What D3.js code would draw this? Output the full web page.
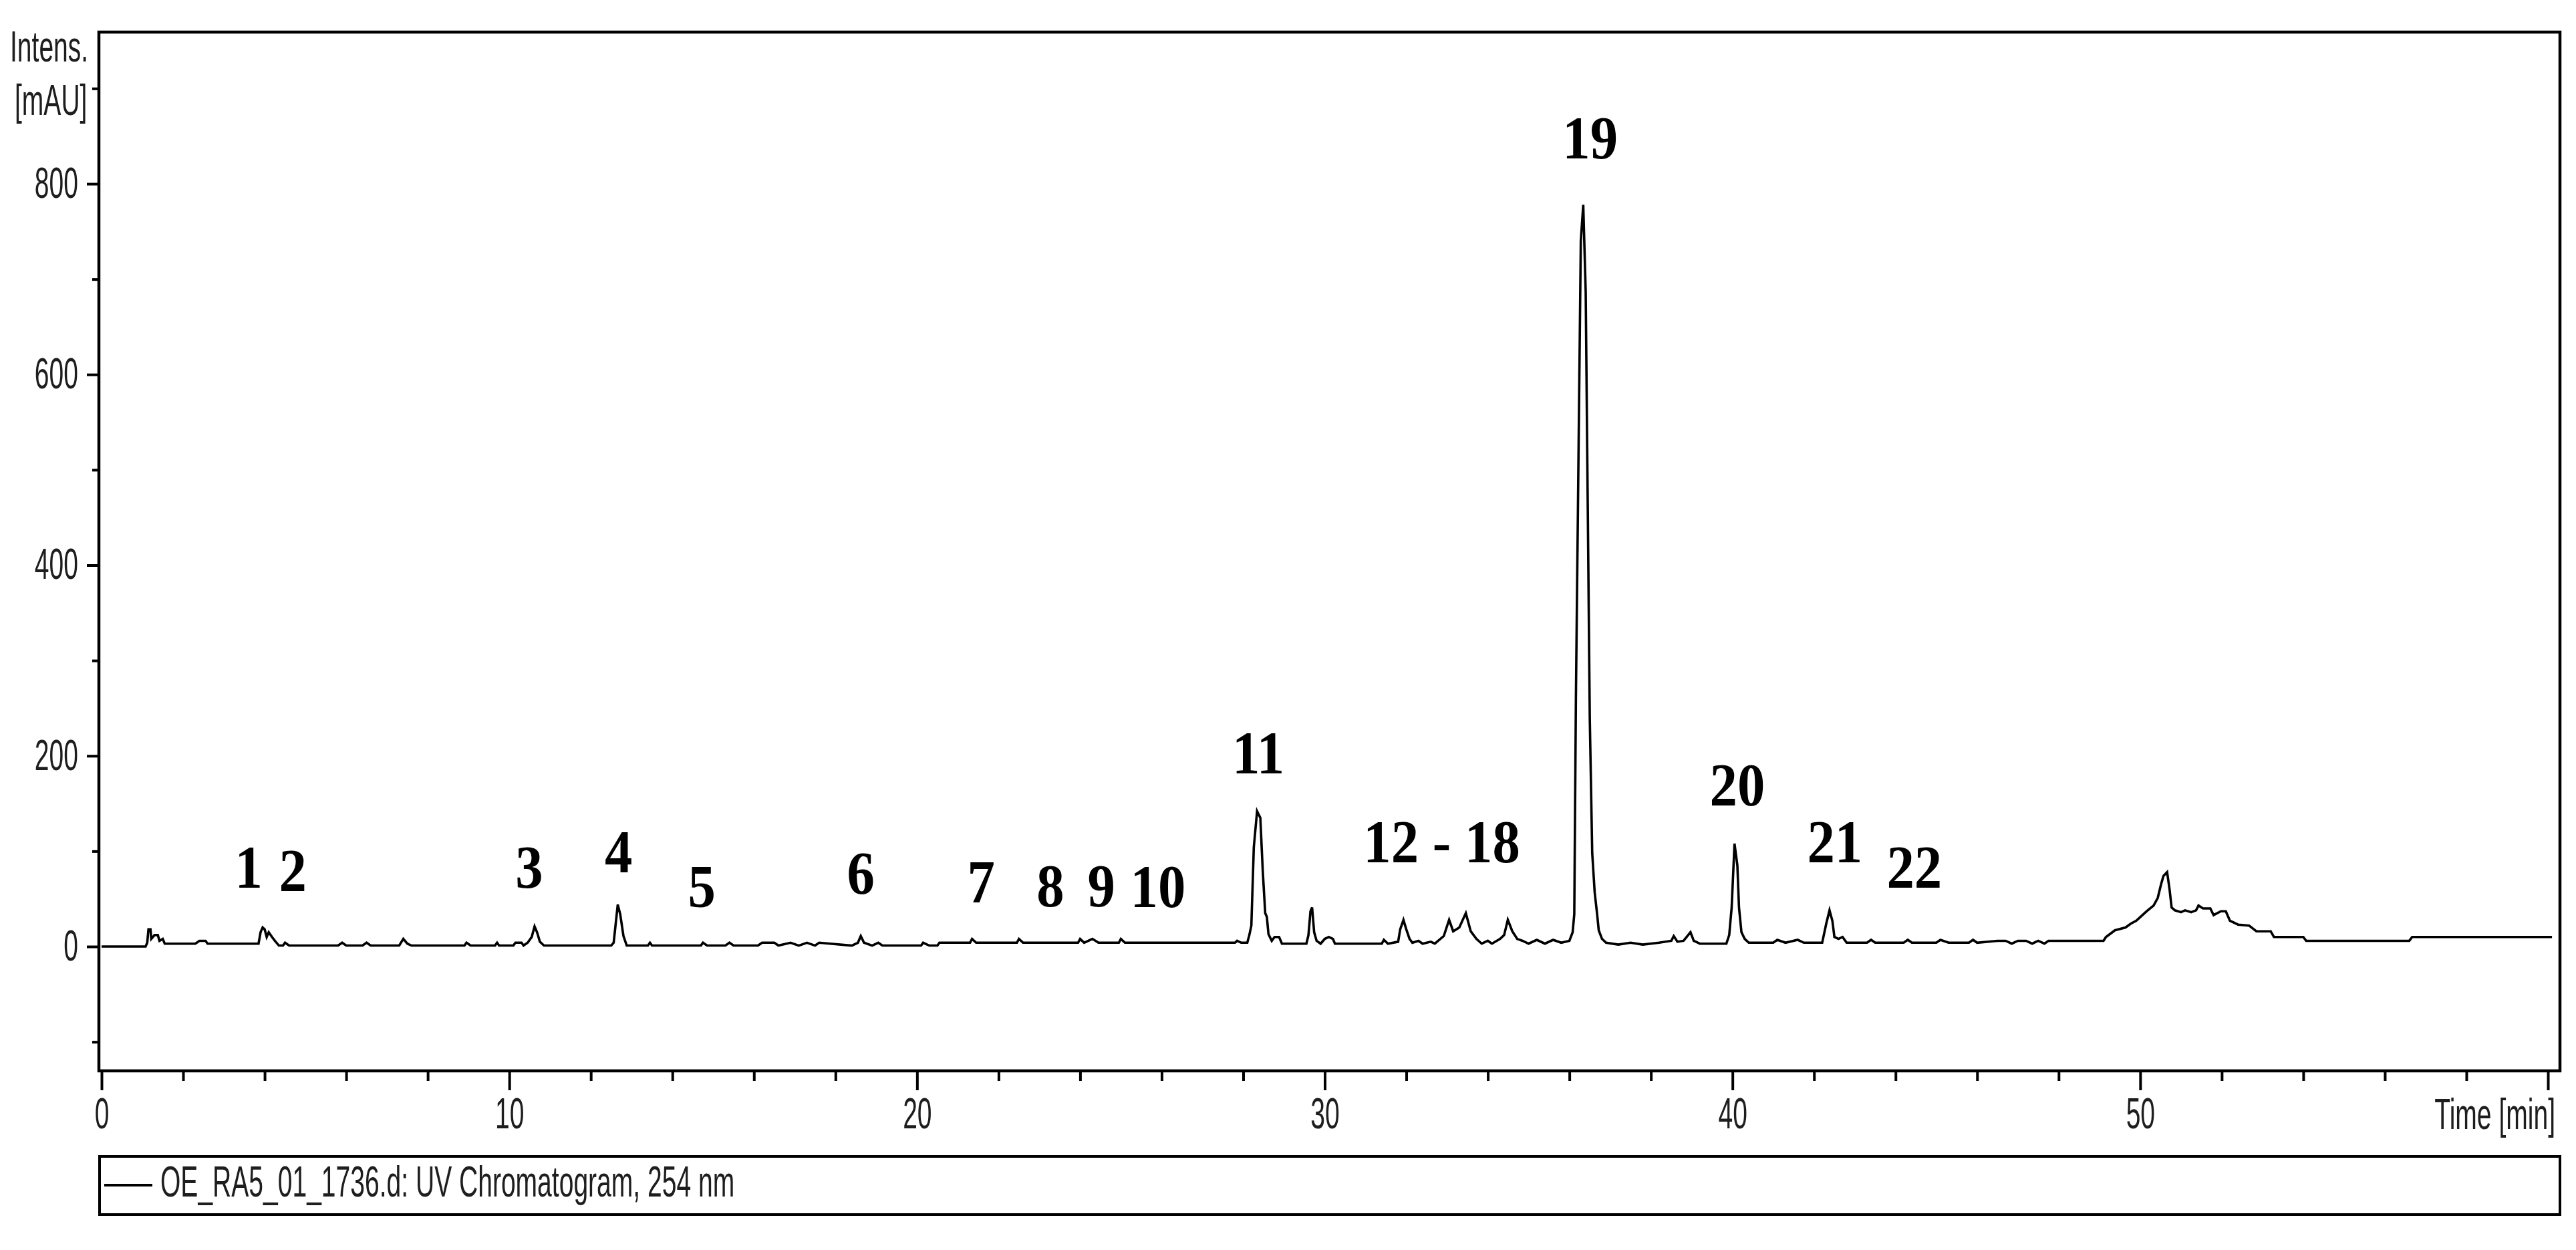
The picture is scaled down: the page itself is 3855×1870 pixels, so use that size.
<!DOCTYPE html>
<html>
<head>
<meta charset="utf-8">
<script src="https://cdn.jsdelivr.net/npm/d3@7"></script>
<style>
html,body{margin:0;padding:0;background:#fff;}
svg{display:block;}
</style>
</head>
<body>
<svg id="chart" width="3855" height="1870"></svg>
<script>
// ---------------- DATA ----------------
const time = [
 0.0,1.08,1.12,1.15,1.2,1.22,1.3,1.38,1.42,1.5,1.55,2.3,2.4,2.55,2.6,3.85,3.9,3.95,4.0,4.05,4.1,4.18,4.25,4.35,4.45,4.5,4.6,
 5.8,5.9,6.0,6.4,6.5,6.6,7.3,7.4,7.5,7.6,8.9,8.95,9.05,9.65,9.7,9.75,10.1,10.15,10.3,10.35,10.45,10.55,10.62,10.68,10.75,10.85,
 12.5,12.56,12.6,12.66,12.72,12.8,12.88,13.4,13.45,13.5,14.7,14.75,14.85,15.3,15.4,15.5,16.1,16.2,16.5,16.6,16.9,17.1,17.3,17.5,17.6,
 18.4,18.55,18.62,18.7,18.9,19.05,19.15,20.1,20.15,20.3,20.5,20.55,21.3,21.35,21.45,22.45,22.5,22.6,23.95,24.0,24.1,24.3,24.45,24.95,25.0,25.1,
 27.8,27.85,27.95,28.1,28.15,28.2,28.26,28.34,28.42,28.48,28.54,28.58,28.62,28.7,28.77,28.88,28.95,29.55,29.6,29.65,29.69,29.74,29.8,29.9,
 30.0,30.1,30.2,30.25,31.4,31.45,31.55,31.8,31.85,31.93,32.0,32.08,32.15,32.3,32.4,32.6,32.7,32.92,33.05,33.15,33.3,33.46,33.58,33.72,33.85,
 34.0,34.1,34.3,34.4,34.49,34.6,34.72,34.85,35.0,35.2,35.4,35.6,35.8,36.0,36.08,36.12,36.16,36.28,36.34,36.4,36.5,36.56,36.62,36.68,36.72,36.8,36.9,
 37.2,37.5,37.8,38.2,38.5,38.56,38.65,38.8,38.97,39.05,39.2,39.85,39.92,39.98,40.05,40.12,40.16,40.22,40.3,40.4,41.0,41.1,41.3,41.6,41.75,
 42.2,42.3,42.38,42.45,42.5,42.6,42.7,42.8,43.3,43.4,43.5,44.2,44.3,44.4,45.0,45.1,45.3,45.8,45.9,46.0,46.5,46.7,46.85,47.0,47.2,47.35,47.5,47.65,47.75,
 49.1,49.16,49.38,49.64,49.77,49.9,50.03,50.16,50.33,50.43,50.51,50.57,50.66,50.72,50.77,50.85,51.0,51.1,51.25,51.37,51.43,51.54,51.72,51.8,51.98,52.1,
 52.2,52.4,52.67,52.85,53.2,53.28,54.0,54.07,56.6,56.67,60.1
];
const intensity = [
 0,0,4,18,18,8,12,12,6,8,3,3,6,6,3,3,15,20,18,10,15,10,6,1,1,4,1,
 1,4,1,1,4,1,1,8,3,1,1,4,1,1,4,1,1,4,4,1,4,10,21,15,5,1,
 1,4,20,44,34,11,1,1,4,1,1,4,1,1,4,1,1,4,4,1,4,1,4,1,4,
 1,4,11,4,1,4,1,1,4,1,1,4,4,8,4,4,8,4,4,8,4,8,4,4,8,4,
 4,6,4,4,12,22,104,142,135,79,35,31,13,6,10,10,3,3,12,37,41,15,6,3,
 8,10,8,3,3,7,3,5,18,28,18,8,4,6,3,5,3,11,28,16,20,35,16,8,3,
 6,3,8,12,28,16,8,6,3,7,3,7,4,6,15,34,261,740,778,687,240,98,57,34,17,8,4,
 2,4,2,4,6,11,5,6,15,6,3,3,12,41,108,85,41,15,8,4,4,7,4,7,4,
 4,24,38,27,10,8,10,4,4,7,4,4,7,4,4,7,4,4,7,4,6,6,3,6,6,3,6,3,6,
 6,10,17,20,24,27,32,37,43,51,65,74,78,60,41,38,36,38,36,38,43,40,40,33,37,37,
 27,23,22,16,16,10,10,6,6,10,10
];
const yMajorTicks = [0, 200, 400, 600, 800];
const yMinorTicks = [-100, 100, 300, 500, 700, 900];
const xMajorTicks = [0, 10, 20, 30, 40, 50, 60];
const xTickLabels = ["0", "10", "20", "30", "40", "50", ""];
const xMinorTicks = [2,4,6,8,12,14,16,18,22,24,26,28,32,34,36,38,42,44,46,48,52,54,56,58];
const peakLabels = ["1","2","3","4","5","6","7","8","9","10","11","12 - 18","19","20","21","22"];
const peakLabelTime = [3.61,4.69,10.49,12.68,14.72,18.62,21.57,23.27,24.52,25.91,28.37,32.87,36.51,40.12,42.51,44.46];
const peakLabelIntensity = [61.7,58.2,61.7,77.8,41.4,55.4,46.3,42,42,41.4,181.6,88.4,826.8,148,88.4,61.7];
const yTitleLines = ["Intens.", "[mAU]"];
const xTitle = "Time [min]";
const legendLabel = "OE_RA5_01_1736.d: UV Chromatogram, 254 nm";

// ---------------- LAYOUT ----------------
const frame = {left: 148, right: 3831, top: 48, bottom: 1602};
const svg = d3.select("#chart");
svg.append("rect").attr("width", 3855).attr("height", 1870).attr("fill", "#fff");

const x = d3.scaleLinear().domain([0, 60]).range([152, 3813]);
const y = d3.scaleLinear().domain([0, 800]).range([1416, 275]);

const sansFont = "'Liberation Sans', Arial, sans-serif";
const textColor = "#1e1e1e";

// horizontal compression around each text's own anchor point
function squeeze(sel, k) {
  sel.each(function() {
    const el = d3.select(this);
    const ax = +el.attr("x") || 0;
    el.attr("x", 0).attr("transform", `translate(${ax},0) scale(${k},1)`);
  });
}

// clip
svg.append("defs").append("clipPath").attr("id", "plotclip")
  .append("rect").attr("x", frame.left).attr("y", frame.top)
  .attr("width", frame.right - frame.left).attr("height", frame.bottom - frame.top);

// trace
const pts = time.map((t, i) => [t, intensity[i]]);
svg.append("path")
  .datum(pts)
  .attr("clip-path", "url(#plotclip)")
  .attr("fill", "none")
  .attr("stroke", "#000")
  .attr("stroke-width", 3.6)
  .attr("stroke-linejoin", "miter")
  .attr("d", d3.line().x(d => x(d[0])).y(d => y(d[1])));

// axes
function styleAxis(g, fontSize) {
  g.select(".domain").remove();
  g.selectAll(".tick line").attr("stroke", "#000").attr("stroke-width", 4);
  g.selectAll(".tick text").attr("fill", textColor);
  g.attr("font-family", sansFont).attr("font-size", fontSize);
}

const yMajor = svg.append("g").attr("transform", `translate(${frame.left},0)`)
  .call(d3.axisLeft(y).tickValues(yMajorTicks).tickSize(18).tickPadding(13).tickFormat(d3.format("d")));
styleAxis(yMajor, 64);
squeeze(yMajor.selectAll(".tick text"), 0.61);

const yMinor = svg.append("g").attr("transform", `translate(${frame.left},0)`)
  .call(d3.axisLeft(y).tickValues(yMinorTicks).tickSize(10).tickFormat(""));
styleAxis(yMinor, 64);
yMinor.selectAll(".tick text").remove();

const xMajor = svg.append("g").attr("transform", `translate(0,${frame.bottom})`)
  .call(d3.axisBottom(x).tickValues(xMajorTicks).tickSize(29).tickPadding(12)
    .tickFormat((d, i) => xTickLabels[i]));
styleAxis(xMajor, 64);
xMajor.selectAll(".tick text").filter(function(){ return this.textContent.length === 0; }).remove();
squeeze(xMajor.selectAll(".tick text"), 0.61);

const xMinor = svg.append("g").attr("transform", `translate(0,${frame.bottom})`)
  .call(d3.axisBottom(x).tickValues(xMinorTicks).tickSize(15).tickFormat(""));
styleAxis(xMinor, 64);
xMinor.selectAll(".tick text").remove();

// frame
svg.append("rect")
  .attr("x", frame.left).attr("y", frame.top)
  .attr("width", frame.right - frame.left).attr("height", frame.bottom - frame.top)
  .attr("fill", "none").attr("stroke", "#000").attr("stroke-width", 4.5);

// axis titles
const yt = svg.append("g").attr("font-family", sansFont).attr("font-size", 64).attr("fill", textColor);
yt.append("text").attr("x", 15).attr("y", 92).text(yTitleLines[0]);
yt.append("text").attr("x", 22).attr("y", 172).text(yTitleLines[1]);
squeeze(yt.selectAll("text"), 0.61);

const xt = svg.append("text").attr("x", 3824).attr("y", 1689)
  .attr("text-anchor", "end").attr("font-family", sansFont).attr("font-size", 64)
  .attr("fill", textColor).text(xTitle);
squeeze(xt, 0.61);

// peak labels
const pl = svg.append("g").attr("font-family", "'Liberation Serif', 'Times New Roman', serif")
  .attr("font-weight", "bold").attr("font-size", 90).attr("fill", "#000").attr("text-anchor", "middle");
pl.selectAll("text").data(peakLabels).join("text")
  .attr("x", (d, i) => x(peakLabelTime[i]))
  .attr("y", (d, i) => y(peakLabelIntensity[i]))
  .text(d => d);
squeeze(pl.selectAll("text"), 0.92);

// legend
const lg = svg.append("g");
lg.append("rect").attr("x", 149).attr("y", 1730).attr("width", 3682).attr("height", 87)
  .attr("fill", "none").attr("stroke", "#000").attr("stroke-width", 4);
lg.append("line").attr("x1", 156).attr("x2", 228).attr("y1", 1773).attr("y2", 1773)
  .attr("stroke", "#000").attr("stroke-width", 4);
const lt = lg.append("text").attr("x", 240).attr("y", 1790)
  .attr("font-family", sansFont).attr("font-size", 64).attr("fill", textColor).text(legendLabel);
squeeze(lt, 0.61);
</script>
</body>
</html>
